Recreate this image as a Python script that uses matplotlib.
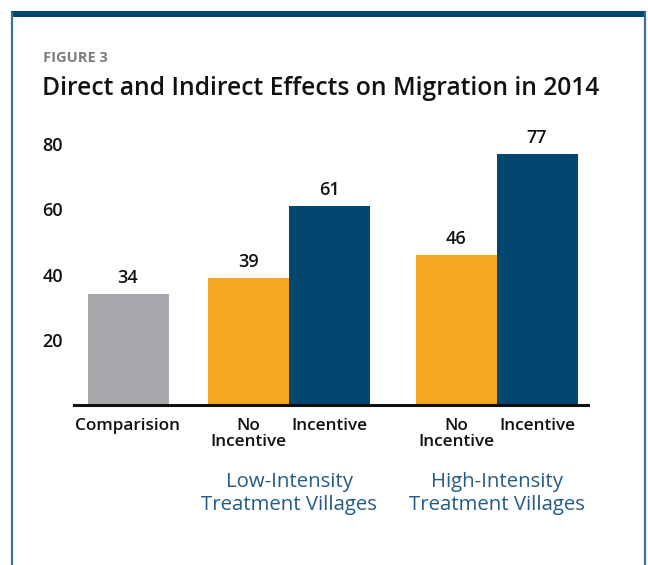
import matplotlib
matplotlib.use("Agg")
import matplotlib.pyplot as plt
from matplotlib.patches import Rectangle
from matplotlib.lines import Line2D

plt.rcParams['font.family'] = ['Open Sans', 'DejaVu Sans']

# ---- data ----
bar_labels = ["Comparision", "No\nIncentive", "Incentive", "No\nIncentive", "Incentive"]
values = [34, 39, 61, 46, 77]
group_labels = ["Low-Intensity\nTreatment Villages", "High-Intensity\nTreatment Villages"]
yticks = [20, 40, 60, 80]
title = "Direct and Indirect Effects on Migration in 2014"
fig_label = "FIGURE 3"

positions = [0, 1.49, 2.49, 4.05, 5.05]
colors = ["#a7a8ab", "#f4a81f", "#03466f", "#f4a81f", "#03466f"]
group_centers = [(positions[1] + positions[2]) / 2, (positions[3] + positions[4]) / 2]

W, H = 648, 565
fig = plt.figure(figsize=(W / 100, H / 100), dpi=100)

# frame (left/right lines, top bar; no bottom edge)
for xp in (12, 645):
    fig.add_artist(Line2D([xp / W, xp / W], [0, (565 - 13) / H],
                          transform=fig.transFigure, color="#3b6f9c", linewidth=1.6))
fig.add_artist(Rectangle((11 / W, (565 - 16.5) / H), (646 - 11) / W, 6 / H,
                         transform=fig.transFigure, facecolor="#03466f",
                         edgecolor="none"))

fig.text(43 / W, 1 - 62 / H, fig_label, fontsize=10.5, fontweight="bold",
         color="#7d7d7d", ha="left", va="baseline")
fig.text(42 / W, 1 - 95 / H, title, fontsize=17.7, fontweight="semibold",
         color="#111111", ha="left", va="baseline")

ax = fig.add_axes([74 / W, (565 - 405) / H, (588 - 74) / W, (405 - 127.9) / H])
ax.bar(positions, values, width=1.0, color=colors, align="center", zorder=2)
ax.set_xlim(-54 / 81, 460 / 81)
ax.set_ylim(0, 85)

for s in ["left", "right", "top"]:
    ax.spines[s].set_visible(False)
ax.spines["bottom"].set_linewidth(2.2)
ax.spines["bottom"].set_color("#111111")
ax.spines["bottom"].set_zorder(3)

ax.set_yticks(yticks)
ax.set_yticklabels([str(t) for t in yticks], fontsize=13, fontweight="semibold", color="#111111")
ax.tick_params(axis="y", length=0, pad=8)
ax.set_xticks(positions)
ax.set_xticklabels(bar_labels, fontsize=12.3, fontweight="semibold", color="#111111",
                   linespacing=1.0, va="top")
ax.tick_params(axis="x", length=0, pad=9)

for p, v in zip(positions, values):
    ax.annotate(str(v), (p, v), xytext=(0, 5), textcoords="offset points",
                ha="center", va="bottom", fontsize=13, fontweight="semibold", color="#111111")

for gc, gl in zip(group_centers, group_labels):
    ax.annotate(gl, (gc, 0), xycoords=("data", "axes fraction"),
                xytext=(0, -48), textcoords="offset points",
                ha="center", va="top", fontsize=14.7, color="#245b87", linespacing=1.2)

fig.savefig("out.png", dpi=100)
